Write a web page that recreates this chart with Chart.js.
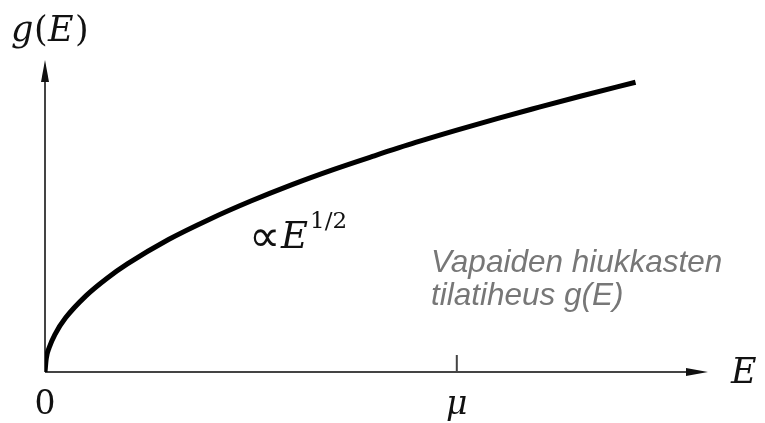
<!DOCTYPE html>
<html>
<head>
<meta charset="utf-8">
<script src="https://cdn.jsdelivr.net/npm/chart.js@4/dist/chart.umd.min.js"></script>
<style>
  html, body { margin: 0; padding: 0; background: #fff; }
  #wrap { width: 765px; height: 423px; position: relative; }
</style>
</head>
<body>
<div id="wrap"><canvas id="dosChart" width="765" height="423"></canvas></div>
<script>
// energy (in units of mu) and density of states g(E)
const energies = [0, 0.003, 0.01, 0.025, 0.05, 0.1, 0.15, 0.2, 0.3, 0.4, 0.5, 0.6, 0.7, 0.8, 0.9, 1.0, 1.1, 1.2, 1.3, 1.434];
const dosValues = [0, 0.055, 0.1, 0.158, 0.224, 0.316, 0.387, 0.447, 0.548, 0.632, 0.707, 0.775, 0.837, 0.894, 0.949, 1.0, 1.049, 1.095, 1.14, 1.198];
const muValue = 1.0;
const xMax = 1.61;
const yMax = 1.29;

const points = energies.map((e, i) => ({x: e, y: dosValues[i]}));

function arrowHead(ctx, x, y, dir) {
    ctx.beginPath();
    if (dir === 'up') {
        ctx.moveTo(x, y);
        ctx.lineTo(x - 4, y + 22);
        ctx.lineTo(x + 4, y + 22);
    } else {
        ctx.moveTo(x, y);
        ctx.lineTo(x - 22, y - 4);
        ctx.lineTo(x - 22, y + 4);
    }
    ctx.closePath();
    ctx.fill();
}

// axes with arrows, the mu tick and all the labels
const axesPlugin = {
    id: 'axesPlugin',
    beforeDatasetsDraw(chart) {
        const ctx = chart.ctx;
        const xs = chart.scales.x, ys = chart.scales.y;
        const x0 = xs.getPixelForValue(0), y0 = ys.getPixelForValue(0);
        const xEnd = xs.getPixelForValue(xMax), yTop = ys.getPixelForValue(yMax);
        const xMu = xs.getPixelForValue(muValue);
        ctx.save();
        ctx.strokeStyle = '#444';
        ctx.fillStyle = '#111';
        ctx.lineWidth = 2;
        ctx.beginPath();
        ctx.moveTo(x0, y0);
        ctx.lineTo(x0, yTop + 10);
        ctx.moveTo(x0, y0);
        ctx.lineTo(xEnd - 10, y0);
        ctx.moveTo(xMu, y0);
        ctx.lineTo(xMu, y0 - 17);
        ctx.stroke();
        arrowHead(ctx, x0, yTop, 'up');
        arrowHead(ctx, xEnd, y0, 'right');
        ctx.restore();
    },
    afterDraw(chart) {
        const ctx = chart.ctx;
        const xs = chart.scales.x;
        const x0 = xs.getPixelForValue(0);
        const xMu = xs.getPixelForValue(muValue);
        ctx.save();
        ctx.fillStyle = '#111';
        ctx.textBaseline = 'alphabetic';
        ctx.textAlign = 'left';
        ctx.font = 'italic 35px "DejaVu Serif", serif';
        ctx.fillText('g', 11, 41);
        ctx.font = '35px "DejaVu Serif", serif';
        ctx.fillText('(', 34, 41);
        ctx.font = 'italic 35px "DejaVu Serif", serif';
        ctx.fillText('E', 48, 41);
        ctx.font = '35px "DejaVu Serif", serif';
        ctx.fillText(')', 75, 41);

        ctx.textAlign = 'center';
        ctx.font = '33px "DejaVu Serif", serif';
        ctx.fillText('0', x0, 414);
        ctx.font = 'italic 33px "DejaVu Serif", serif';
        ctx.fillText('μ', xMu, 414);
        ctx.textAlign = 'left';
        ctx.font = 'italic 35px "DejaVu Serif", serif';
        ctx.fillText('E', 731, 383);

        // proportionality label
        ctx.font = '44px "DejaVu Sans", sans-serif';
        ctx.fillText('∝', 249, 251);
        ctx.font = 'italic 37px "DejaVu Serif", serif';
        ctx.fillText('E', 281, 248);
        ctx.font = '23px "DejaVu Serif", serif';
        ctx.fillText('1/2', 310, 228);

        ctx.fillStyle = '#777';
        ctx.font = 'italic 31.5px "Liberation Sans", Arial, sans-serif';
        ctx.fillText('Vapaiden hiukkasten', 431, 272);
        ctx.fillText('tilatiheus g(E)', 431, 305);
        ctx.restore();
    }
};

new Chart(document.getElementById('dosChart'), {
    type: 'line',
    data: {
        datasets: [{
            data: points,
            borderColor: '#000',
            borderWidth: 5,
            pointRadius: 0,
            cubicInterpolationMode: 'monotone',
            fill: false
        }]
    },
    options: {
        responsive: false,
        animation: false,
        layout: {padding: {left: 45, right: 57, top: 60, bottom: 51}},
        plugins: {legend: {display: false}, tooltip: {enabled: false}},
        scales: {
            x: {type: 'linear', min: 0, max: xMax, display: false},
            y: {type: 'linear', min: 0, max: yMax, display: false}
        }
    },
    plugins: [axesPlugin]
});
</script>
</body>
</html>
